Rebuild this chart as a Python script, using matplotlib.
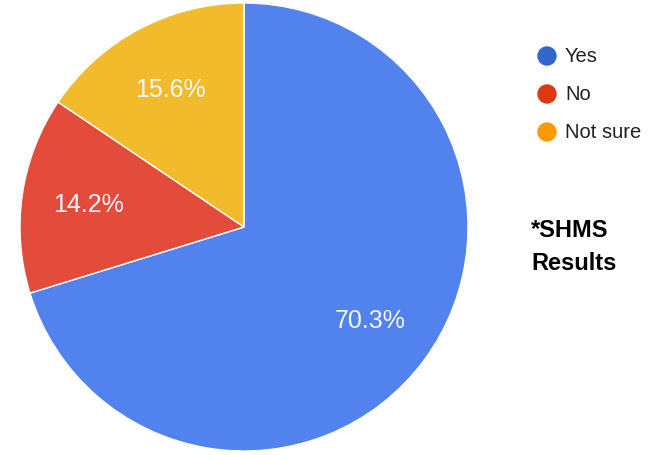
import matplotlib
matplotlib.use('Agg')
import matplotlib.pyplot as plt

# data
labels = ['Yes', 'No', 'Not sure']
values = [70.3, 14.2, 15.6]
pie_colors = ['#5282EE', '#E34B3A', '#F2BB2C']
legend_colors = ['#3366CC', '#DC3912', '#FF9900']

plt.rcParams['font.family'] = ['Liberation Sans', 'DejaVu Sans']

W, H = 659, 456
fig = plt.figure(figsize=(W / 100, H / 100), dpi=100)

# pie centre (244, 228) px, radius 224 px
cx, cy, r = 244, 228, 224
ax = fig.add_axes([(cx - r) / W, (H - cy - r) / H, 2 * r / W, 2 * r / H])
wedges, texts = ax.pie(values, colors=pie_colors, startangle=90, counterclock=False,
                       labels=['%.1f%%' % v for v in values], labeldistance=0.7,
                       wedgeprops=dict(edgecolor='white', linewidth=1))
for t in texts:
    t.set_color('#F4F8FF')
    t.set_fontsize(18)
    t.set_ha('center')
    t.set_va('center')
ax.set_xlim(-1, 1)
ax.set_ylim(-1, 1)
ax.set_aspect('equal')
ax.axis('off')

# legend drawn by hand
lx = 547 / W
for i, (lab, col) in enumerate(zip(labels, legend_colors)):
    ly = 1 - (57 + 38 * i) / H
    fig.patches.append(matplotlib.patches.Ellipse((lx, ly), 18 / W, 18 / H, color=col,
                                                  transform=fig.transFigure))
    fig.text(565 / W, ly, lab, fontsize=14.5, color='#222222', va='center', ha='left')

fig.text(531 / W, 1 - 231 / H, '*SHMS', fontsize=17, fontweight='bold', va='center', ha='left')
fig.text(531 / W, 1 - 264 / H, 'Results', fontsize=17, fontweight='bold', va='center', ha='left')

fig.savefig('out.png', dpi=100)
